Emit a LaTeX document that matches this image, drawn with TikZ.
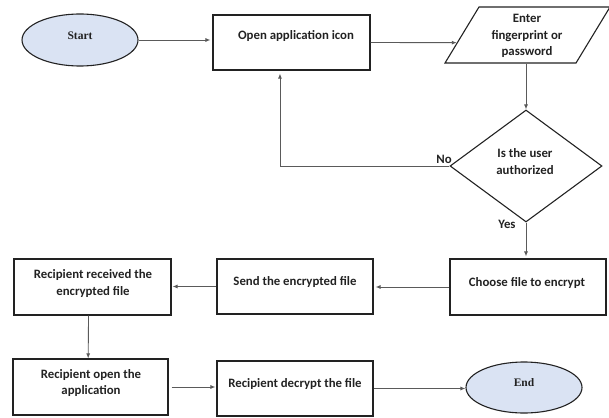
\documentclass[tikz,border=0pt]{standalone}
\usepackage{fontspec}
\setmainfont{Carlito}
\newfontfamily\termfont{Liberation Serif}
\usetikzlibrary{shapes.geometric,arrows.meta,calc}
\definecolor{termfill}{HTML}{DAE3F3}
\definecolor{inkc}{HTML}{222222}
\definecolor{linec}{HTML}{5A5A5A}
\tikzset{
  stepbox/.style={draw=inkc,line width=1.1pt,rectangle,inner sep=0pt},
  termbox/.style={draw=inkc,line width=1.1pt,ellipse,fill=termfill,inner sep=0pt,minimum width=116pt,minimum height=52pt},
  lbl/.style={font=\bfseries\fontsize{12.8}{16.5}\selectfont,text=inkc,align=center,inner sep=0pt},
  termlbl/.style={font=\termfont\bfseries\fontsize{11.5}{14}\selectfont,text=inkc,inner sep=0pt},
  arr/.style={draw=linec,line width=0.9pt,-{Latex[length=5pt,width=4pt]}},
}
\begin{document}
\begin{tikzpicture}[x=1pt,y=-1pt]
\useasboundingbox (0,0) rectangle (609,417);
% shapes
\node[termbox] (start) at (80,40) {};
\node[termlbl] (startt) at (80,36) {Start};
\node[stepbox,minimum width=157pt,minimum height=55pt] (open) at (291.5,42.5) {};
\node[lbl] (opent) at (296,36) {Open application icon};
\node[draw=inkc,line width=1.1pt,rectangle,inner sep=0pt,minimum width=131pt,minimum height=56pt,
  xslant=0.607,transform shape] (enter) at (527.5,35) {};
\node[lbl] (entert) at (527,36) {Enter\\fingerprint or\\password};
\node[draw=inkc,line width=1.1pt,diamond,minimum width=152pt,minimum height=112pt,inner sep=0pt] (auth) at (526,166) {};
\node[lbl,align=center] (autht) at (525,161.5) {Is the user\\authorized};
\node[lbl] (no) at (444,159) {No};
\node[lbl] (yes) at (507,224) {Yes};
\node[stepbox,minimum width=156pt,minimum height=56pt] (choose) at (528,287) {};
\node[lbl] (chooset) at (527,283) {Choose file to encrypt};
\node[stepbox,minimum width=156pt,minimum height=55pt] (send) at (295,286.5) {};
\node[lbl] (sendt) at (295,282) {Send the encrypted file};
\node[stepbox,minimum width=157pt,minimum height=56pt] (recv) at (92.5,287) {};
\node[lbl] (recvt) at (93,283.5) {Recipient received the\\encrypted file};
\node[stepbox,minimum width=155pt,minimum height=56pt] (ropen) at (90.5,387) {};
\node[lbl] (ropent) at (91,383) {Recipient open the\\application};
\node[stepbox,minimum width=156pt,minimum height=55pt] (decrypt) at (295,388.5) {};
\node[lbl] (decryptt) at (295,384) {Recipient decrypt the file};
\node[termbox,minimum height=51pt] (end) at (524,387.5) {};
\node[termlbl] (endt) at (524,383) {End};
% connectors
\draw[arr,shorten >=2pt] (start.east) -- (start.east -| open.west);
\draw[arr] (open.east) -- ($(enter.south west)!0.366!(enter.north west)$);
\draw[arr] (auth.north |- enter.south) -- (auth.north);
\draw[arr,shorten >=3pt] (auth.west) -| ($(open.south west)!0.427!(open.south east)$);
\draw[arr,shorten >=2pt] (auth.south) -- (auth.south |- choose.north);
\draw[arr,shorten >=2pt] (choose.west) -- (choose.west -| send.east);
\draw[arr,shorten >=1pt] (send.west) -- (send.west -| recv.east);
\draw[arr] ($(recv.south west)!0.475!(recv.south east)$) -- ($(ropen.north west)!0.485!(ropen.north east)$);
\draw[arr,shorten <=3pt,shorten >=1pt] (ropen.east) -- (ropen.east -| decrypt.west);
\draw[arr] (decrypt.east) -- (decrypt.east -| end.west);
\end{tikzpicture}
\end{document}
